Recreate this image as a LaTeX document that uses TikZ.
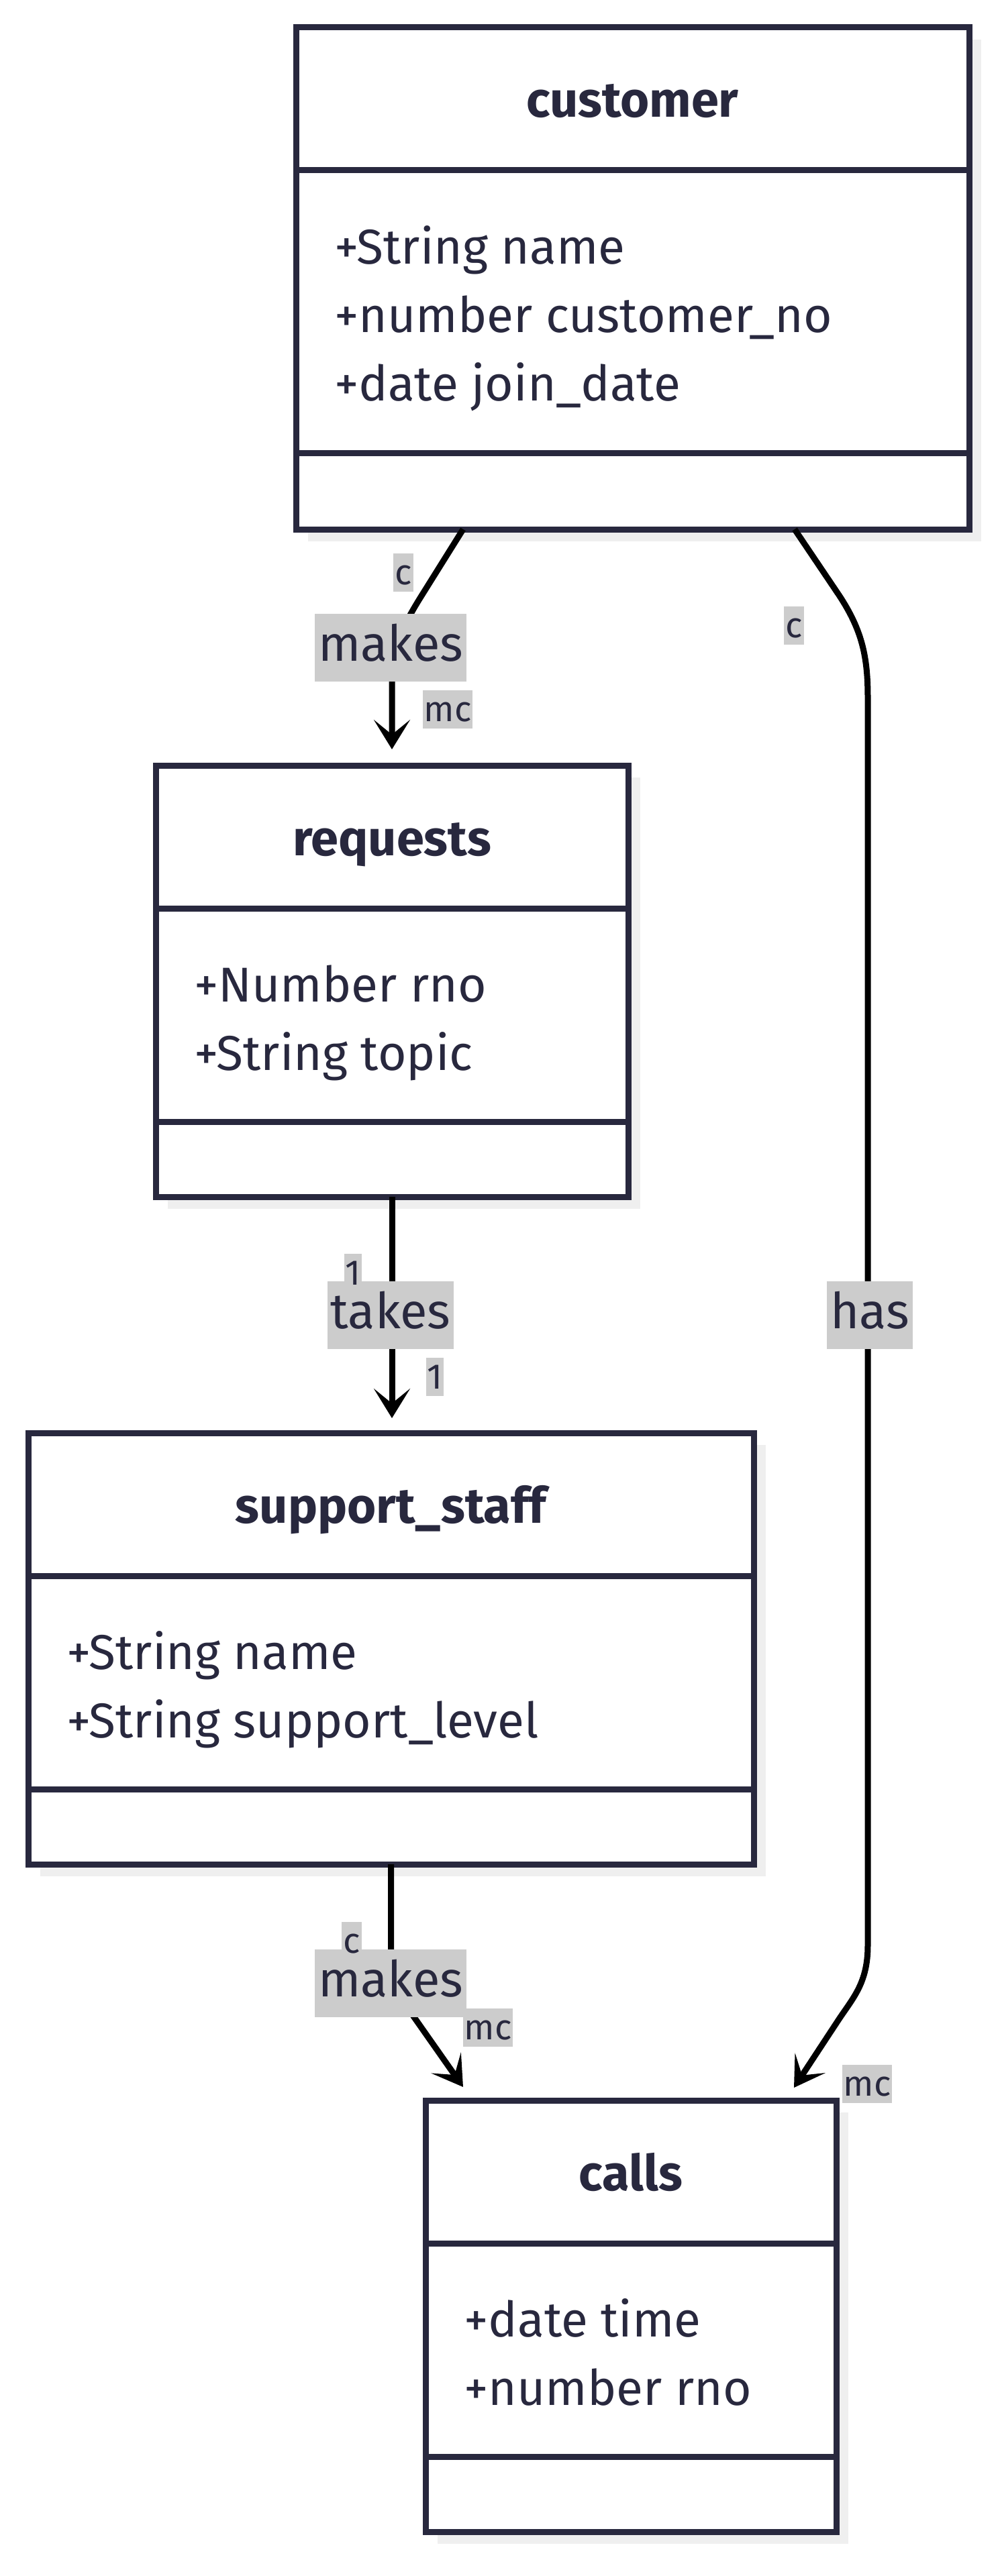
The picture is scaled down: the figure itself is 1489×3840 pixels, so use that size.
\documentclass[tikz,border=0pt]{standalone}
\usepackage{fontspec}
\setmainfont{Fira Sans}
\usetikzlibrary{arrows.meta,shadows,calc}
\definecolor{navy}{RGB}{40,40,62}
\definecolor{lblgray}{RGB}{204,204,204}
\definecolor{shgray}{RGB}{239,239,239}
\tikzset{
  classbox/.style={draw=navy, line width=9pt, fill=white, anchor=north west, inner sep=0pt, outer sep=0pt,
    general shadow={fill=shgray, shadow xshift=18pt, shadow yshift=-18pt}},
  divider/.style={draw=navy, line width=9pt},
  ctitle/.style={font=\fontsize{74}{88}\selectfont\bfseries, text=navy, anchor=base, inner sep=0pt},
  cattr/.style={font=\fontsize{73}{88}\selectfont, text=navy, anchor=base west, inner sep=0pt},
  conn/.style={draw=black, line width=9pt, -{Stealth[length=44pt,width=54pt,inset=22pt]}},
  biglbl/.style={fill=lblgray, text=navy, font=\fontsize{74}{88}\selectfont, inner xsep=5pt, inner ysep=0pt, text height=71pt, text depth=30pt},
  smalllbl/.style={fill=lblgray, text=navy, font=\fontsize{53}{62}\selectfont, inner xsep=2pt, inner ysep=0pt, text height=47pt, text depth=10pt},
}
\begin{document}
\begin{tikzpicture}[x=1pt,y=-1pt]
\useasboundingbox (0,0) rectangle (1489,3840);

% ---------- customer ----------
\node[classbox, minimum width=1003pt, minimum height=748pt] (customer) at (441,41) {};
\draw[divider] ([yshift=-213pt]customer.north west) -- ([yshift=-213pt]customer.north east);
\draw[divider] ([yshift=-634pt]customer.north west) -- ([yshift=-634pt]customer.north east);
\node[ctitle] (customerT) at ([yshift=-134pt]customer.north) {customer};
\node[cattr] (customerA1) at ([xshift=57pt,yshift=-352pt]customer.north west) {+String name};
\node[cattr] (customerA2) at ([xshift=57pt,yshift=-454pt]customer.north west) {+number customer\_no};
\node[cattr] (customerA3) at ([xshift=57pt,yshift=-556pt]customer.north west) {+date join\_date};

% ---------- requests ----------
\node[classbox, minimum width=704pt, minimum height=643pt] (requests) at (232,1141) {};
\draw[divider] ([yshift=-213pt]requests.north west) -- ([yshift=-213pt]requests.north east);
\draw[divider] ([yshift=-531pt]requests.north west) -- ([yshift=-531pt]requests.north east);
\node[ctitle] (requestsT) at ([yshift=-134pt]requests.north) {requests};
\node[cattr] (requestsA1) at ([xshift=57pt,yshift=-352pt]requests.north west) {+Number rno};
\node[cattr] (requestsA2) at ([xshift=57pt,yshift=-454pt]requests.north west) {+String topic};

% ---------- support_staff ----------
\node[classbox, minimum width=1081pt, minimum height=643pt] (support) at (42,2136) {};
\draw[divider] ([yshift=-213pt]support.north west) -- ([yshift=-213pt]support.north east);
\draw[divider] ([yshift=-531pt]support.north west) -- ([yshift=-531pt]support.north east);
\node[ctitle] (supportT) at ([yshift=-134pt]support.north) {support\_staff};
\node[cattr] (supportA1) at ([xshift=57pt,yshift=-352pt]support.north west) {+String name};
\node[cattr] (supportA2) at ([xshift=57pt,yshift=-454pt]support.north west) {+String support\_level};

% ---------- calls ----------
\node[classbox, minimum width=612pt, minimum height=643pt] (calls) at (634,3131) {};
\draw[divider] ([yshift=-213pt]calls.north west) -- ([yshift=-213pt]calls.north east);
\draw[divider] ([yshift=-531pt]calls.north west) -- ([yshift=-531pt]calls.north east);
\node[ctitle] (callsT) at ([yshift=-134pt]calls.north) {calls};
\node[cattr] (callsA1) at ([xshift=57pt,yshift=-352pt]calls.north west) {+date time};
\node[cattr] (callsA2) at ([xshift=57pt,yshift=-454pt]calls.north west) {+number rno};

% ---------- connectors ----------
\draw[conn] ($(customer.south west)+(249,0)$) -- (625,893)
   .. controls (590,950) and (584,975) .. (584,1010)
   -- ($(requests.north)+(0,-24)$);
\draw[conn] ($(customer.south west)+(743,0)$) -- (1250,887)
   .. controls (1285,940) and (1293,980) .. (1293,1040)
   -- (1293,2900)
   .. controls (1293,2955) and (1272,2977) .. (1250,3010)
   -- ($(calls.north west)+(549,-19)$);
\draw[conn] (requests.south) -- ([yshift=22pt]requests.south |- support.north);
\draw[conn] (support.south) -- (582.5,2910)
   .. controls (582.5,2950) and (593,2972) .. (610,2997)
   -- ($(calls.north west)+(56,-20)$);

% ---------- labels ----------
\node[biglbl] (l1) at (582,965) {makes};
\node[smalllbl] (l1a) at (601,853) {c};
\node[smalllbl] (l1b) at (667,1057) {mc};

\node[smalllbl] (l2a) at (1183,932) {c};
\node[biglbl] (l2) at (1296,1960) {has};
\node[smalllbl] (l2b) at (1292,3106) {mc};

\node[biglbl] (l3) at (582,1960) {takes};
\node[smalllbl] (l3a) at (526,1897) {1};
\node[smalllbl] (l3b) at (648,2052) {1};

\node[biglbl] (l4) at (582,2956) {makes};
\node[smalllbl] (l4a) at (524,2893) {c};
\node[smalllbl] (l4b) at (727,3022) {mc};
\end{tikzpicture}
\end{document}
